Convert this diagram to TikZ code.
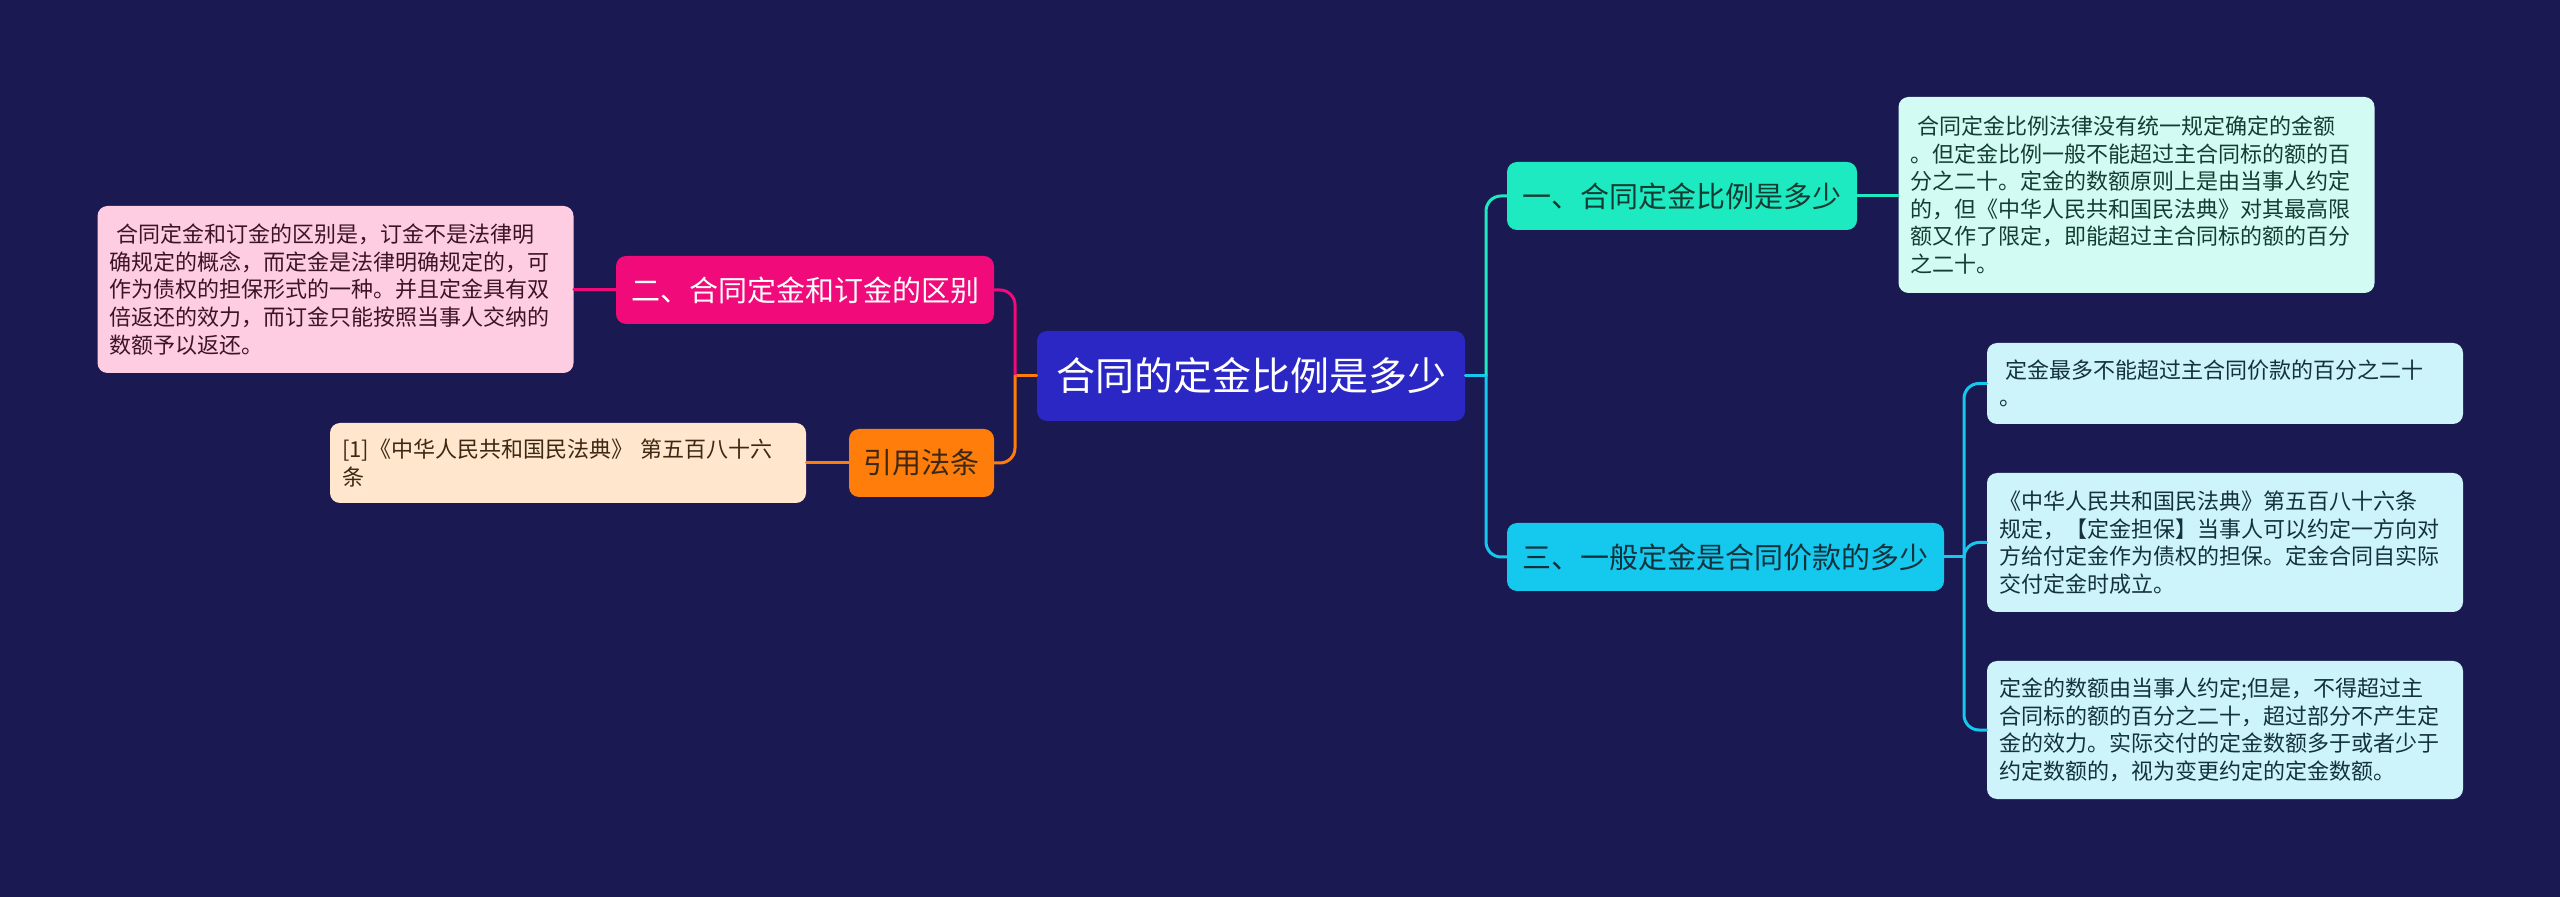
\documentclass[tikz,border=0pt]{standalone}
\usepackage{fontspec}
\setmainfont{Noto Sans CJK SC}
\definecolor{bgnavy}{RGB}{27,25,82}
\definecolor{rootblue}{RGB}{43,39,196}
\definecolor{rose}{RGB}{240,10,122}
\definecolor{roselight}{RGB}{255,205,225}
\definecolor{roseink}{RGB}{60,20,40}
\definecolor{amber}{RGB}{255,125,10}
\definecolor{amberlight}{RGB}{255,230,205}
\definecolor{amberink}{RGB}{60,40,20}
\definecolor{mint}{RGB}{30,234,194}
\definecolor{mintlight}{RGB}{210,252,243}
\definecolor{mintink}{RGB}{20,60,50}
\definecolor{sky}{RGB}{20,200,238}
\definecolor{skylight}{RGB}{205,243,251}
\definecolor{skyink}{RGB}{20,50,60}
\begin{document}
\begin{tikzpicture}[x=0.5pt, y=-0.5pt, line join=round, line cap=round,
  box/.style={rounded corners=5pt, inner sep=0pt, align=center},
  topic/.style={box, minimum height=34pt, font=\fontsize{14.5}{17}\selectfont},
  leaf/.style={box, align=left, text width=226pt, inner xsep=6pt, font=\fontsize{11}{13.8}\selectfont},
  link/.style={line width=1.5pt, rounded corners=7.5pt}]
	\fill[bgnavy] (0,0) rectangle (2560,897);
	\useasboundingbox (0,0) rectangle (2560,897);
	\node[box, fill=rootblue, text=white, minimum width=214pt, minimum height=45pt, font=\fontsize{19.5}{23}\selectfont] (root) at(1251,376){合同的定金比例是多少};
	\node[topic, fill=rose, text=white, minimum width=189pt] (n2) at(805,290){二、合同定金和订金的区别};
	\node[topic, fill=amber, text=amberink, minimum width=72.5pt] (ref) at(921.5,463){引用法条};
	\node[topic, fill=mint, text=mintink, minimum width=175pt] (n1) at(1682,196){一、合同定金比例是多少};
	\node[topic, fill=sky, text=skyink, minimum width=218.5pt] (n3) at(1725.5,557){三、一般定金是合同价款的多少};
	\node[leaf, fill=roselight, text=roseink, minimum height=83.5pt] (l2) at(335.5,289.5){\hspace*{0.3em}合同定金和订金的区别是，订金不是法律明\\确规定的概念，而定金是法律明确规定的，可\\作为债权的担保形式的一种。并且定金具有双\\倍返还的效力，而订金只能按照当事人交纳的\\数额予以返还。};
	\node[leaf, fill=amberlight, text=amberink, minimum height=40pt] (lref) at(568,463){[1]《中华人民共和国民法典》 第五百八十六\\条};
	\node[leaf, fill=mintlight, text=mintink, minimum height=98pt] (l1) at(2136.5,195){\hspace*{0.3em}合同定金比例法律没有统一规定确定的金额\\。但定金比例一般不能超过主合同标的额的百\\分之二十。定金的数额原则上是由当事人约定\\的，但《中华人民共和国民法典》对其最高限\\额又作了限定，即能超过主合同标的额的百分\\之二十。};
	\node[leaf, fill=skylight, text=skyink, minimum height=40.5pt] (l3a) at(2225,383.5){\hspace*{0.3em}定金最多不能超过主合同价款的百分之二十\\。};
	\node[leaf, fill=skylight, text=skyink, minimum height=69.5pt] (l3b) at(2225,542.5){《中华人民共和国民法典》第五百八十六条\\规定，【定金担保】当事人可以约定一方向对\\方给付定金作为债权的担保。定金合同自实际\\交付定金时成立。};
	\node[leaf, fill=skylight, text=skyink, minimum height=69pt] (l3c) at(2225,730){定金的数额由当事人约定;但是，不得超过主\\合同标的额的百分之二十，超过部分不产生定\\金的效力。实际交付的定金数额多于或者少于\\约定数额的，视为变更约定的定金数额。};
	\coordinate (jl) at(1015,376);
	\coordinate (jr) at(1486,376);
	\coordinate (j3) at(1964,557);
	\draw[link, amber] (root.west)--(jl);
	\draw[link, rose] (jl) |- (n2.east);
	\draw[link, amber] (jl) |- (ref.east);
	\draw[link, sky] (root.east)--(jr);
	\draw[link, mint] (jr) |- (n1.west);
	\draw[link, sky] (jr) |- (n3.west);
	\draw[link, rose] (n2.west)--(n2.west -| l2.east);
	\draw[link, amber] (ref.west)--(lref.east);
	\draw[link, mint] (n1.east)--(n1.east -| l1.west);
	\draw[link, sky] (n3.east)--(j3);
	\draw[link, sky] (j3) |- (l3a.west);
	\draw[link, sky] (j3) |- (l3b.west);
	\draw[link, sky] (j3) |- (l3c.west);
\end{tikzpicture}
\end{document}
